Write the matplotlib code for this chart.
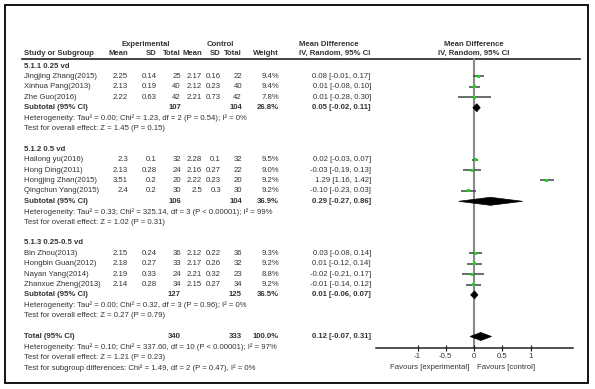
import matplotlib.pyplot as plt
from matplotlib.patches import Polygon, Rectangle

plt.rcParams['font.family'] = ['Liberation Sans', 'DejaVu Sans']
plt.rcParams['axes.unicode_minus'] = False

# studies (flat lists, group index says which subgroup)
study = ["Jingjing Zhang(2015)", "Xinhua Pang(2013)", "Zhe Guo(2016)",
         "Hailong yu(2016)", "Hong Ding(2011)", "Hongjing Zhan(2015)", "Qingchun Yang(2015)",
         "Bin Zhou(2013)", "Hongbin Guan(2012)", "Nayan Yang(2014)", "Zhanxue Zheng(2013)"]
group_of = [0, 0, 0, 1, 1, 1, 1, 2, 2, 2, 2]
exp_mean = [2.25, 2.13, 2.22, 2.3, 2.13, 3.51, 2.4, 2.15, 2.18, 2.19, 2.14]
exp_sd = [0.14, 0.19, 0.63, 0.1, 0.28, 0.2, 0.2, 0.24, 0.27, 0.33, 0.28]
exp_n = [25, 40, 42, 32, 24, 20, 30, 36, 33, 24, 34]
ctl_mean = [2.17, 2.12, 2.21, 2.28, 2.16, 2.22, 2.5, 2.12, 2.17, 2.21, 2.15]
ctl_sd = [0.16, 0.23, 0.73, 0.1, 0.27, 0.23, 0.3, 0.22, 0.26, 0.32, 0.27]
ctl_n = [22, 40, 42, 32, 22, 20, 30, 36, 32, 23, 34]
weight = [9.4, 9.4, 7.8, 9.5, 9.0, 9.2, 9.2, 9.3, 9.2, 8.8, 9.2]
md = [0.08, 0.01, 0.01, 0.02, -0.03, 1.29, -0.10, 0.03, 0.01, -0.02, -0.01]
md_lo = [-0.01, -0.08, -0.28, -0.03, -0.19, 1.16, -0.23, -0.08, -0.12, -0.21, -0.14]
md_hi = [0.17, 0.10, 0.30, 0.07, 0.13, 1.42, 0.03, 0.14, 0.14, 0.17, 0.12]

# subgroups
groups = ["5.1.1 0.25 vd", "5.1.2 0.5 vd", "5.1.3 0.25-0.5 vd"]
sub_exp_n = [107, 106, 127]
sub_ctl_n = [104, 104, 125]
sub_weight = [26.8, 36.9, 36.5]
sub_md = [0.05, 0.29, 0.01]
sub_lo = [-0.02, -0.27, -0.06]
sub_hi = [0.11, 0.86, 0.07]
sub_het = ["Heterogeneity: Tau² = 0.00; Chi² = 1.23, df = 2 (P = 0.54); I² = 0%",
           "Heterogeneity: Tau² = 0.33; Chi² = 325.14, df = 3 (P < 0.00001); I² = 99%",
           "Heterogeneity: Tau² = 0.00; Chi² = 0.32, df = 3 (P = 0.96); I² = 0%"]
sub_test = ["Test for overall effect: Z = 1.45 (P = 0.15)",
            "Test for overall effect: Z = 1.02 (P = 0.31)",
            "Test for overall effect: Z = 0.27 (P = 0.79)"]

# overall
tot_exp_n = 340
tot_ctl_n = 333
tot_weight = 100.0
tot_md, tot_lo, tot_hi = 0.12, -0.07, 0.31
tot_het = "Heterogeneity: Tau² = 0.10; Chi² = 337.60, df = 10 (P < 0.00001); I² = 97%"
tot_test = "Test for overall effect: Z = 1.21 (P = 0.23)"
tot_sub = "Test for subgroup differences: Chi² = 1.49, df = 2 (P = 0.47), I² = 0%"

ticks = [-1, -0.5, 0, 0.5, 1]
tick_labels = ["-1", "-0.5", "0", "0.5", "1"]

# layout (pixels)
W, H = 595, 389
FS = 5.6
TXT = '#333333'
x_name = 24
x_cols = [128, 157, 181, 202, 221, 242, 279]   # right edges
x_ci = 371
x0_px, scale = 474, 56.5
ax_left, ax_right, ax_bot, ax_top = 376, 573, 348, 58


def row_y(r):
    return 76.5 + (r - 3) * 10.4


def ci_text(m, lo, hi):
    return f"{m:.2f} [{lo:.2f}, {hi:.2f}]"


fig = plt.figure(figsize=(W / 100, H / 100), dpi=100)
bg = fig.add_axes([0, 0, 1, 1])
bg.set_xlim(0, W)
bg.set_ylim(H, 0)
bg.axis('off')
bg.add_patch(Rectangle((5, 5), 583, 378, fill=False, lw=1.3, ec='black'))

# header
hd = dict(fontsize=FS, color=TXT, va='center', fontweight='bold')
bg.text(146, 44, "Experimental", ha='center', **hd)
bg.text(220, 44, "Control", ha='center', **hd)
bg.text(299, 44, "Mean Difference", ha='left', **hd)
bg.text(x0_px, 44, "Mean Difference", ha='center', **hd)
bg.text(x_name, 53.5, "Study or Subgroup", **hd)
for x, lab in zip(x_cols, ["Mean", "SD", "Total", "Mean", "SD", "Total", "Weight"]):
    bg.text(x, 53.5, lab, ha='right', **hd)
bg.text(299, 53.5, "IV, Random, 95% CI", ha='left', **hd)
bg.text(x0_px, 53.5, "IV, Random, 95% CI", ha='center', **hd)
bg.plot([22, 580], [58.5, 58.5], color='#222222', lw=1.2)

# forest axes
fa = fig.add_axes([ax_left / W, 1 - ax_bot / H, (ax_right - ax_left) / W, (ax_bot - ax_top) / H])
fa.set_xlim((ax_left - x0_px) / scale, (ax_right - x0_px) / scale)
fa.set_ylim(ax_bot, ax_top)
fa.patch.set_alpha(0)
for s in ['left', 'right', 'top']:
    fa.spines[s].set_visible(False)
fa.spines['bottom'].set_linewidth(1.1)
fa.spines['bottom'].set_color('#222222')
fa.set_yticks([])
fa.set_xticks(ticks)
fa.set_xticklabels(tick_labels)
fa.tick_params(axis='x', direction='inout', length=5, width=0.9, color='#222222',
               labelsize=FS, pad=1, labelcolor=TXT)
fa.axvline(0, color='#8a8a8a', lw=1.5, zorder=1)
fa.text(-0.08, -0.066, "Favours [experimental]", transform=fa.get_xaxis_transform(),
        fontsize=FS, color=TXT, ha='right', va='center')
fa.text(0.05, -0.066, "Favours [control]", transform=fa.get_xaxis_transform(),
        fontsize=FS, color=TXT, ha='left', va='center')


def diamond(m, lo, hi, y):
    fa.add_patch(Polygon([(lo, y), (m, y - 4), (hi, y), (m, y + 4)],
                         closed=True, fc='black', ec='black', lw=0.5, zorder=3))


r = 2
for g, gname in enumerate(groups):
    bg.text(x_name, row_y(r), gname, fontsize=FS, color=TXT, va='center', fontweight='bold')
    r += 1
    idx = [i for i in range(len(study)) if group_of[i] == g]
    ys, los, his, ms, ws = [], [], [], [], []
    for i in idx:
        y = row_y(r)
        vals = [f"{exp_mean[i]:g}", f"{exp_sd[i]:g}", f"{exp_n[i]}",
                f"{ctl_mean[i]:g}", f"{ctl_sd[i]:g}", f"{ctl_n[i]}", f"{weight[i]:.1f}%"]
        bg.text(x_name, y, study[i], fontsize=FS, color=TXT, va='center')
        for x, v in zip(x_cols, vals):
            bg.text(x, y, v, fontsize=FS, color=TXT, ha='right', va='center')
        bg.text(x_ci, y, ci_text(md[i], md_lo[i], md_hi[i]), fontsize=FS, color=TXT, ha='right', va='center')
        ys.append(y); los.append(md_lo[i]); his.append(md_hi[i]); ms.append(md[i]); ws.append(weight[i])
        r += 1
    fa.hlines(ys, los, his, color='#444444', lw=1.1, zorder=2)
    fa.scatter(ms, ys, marker='s', s=[w * 0.5 for w in ws], color='#1fd41f', lw=0, zorder=4)
    y = row_y(r)
    bd = dict(fontsize=FS, color=TXT, ha='right', va='center', fontweight='bold')
    bg.text(x_name, y, "Subtotal (95% CI)", fontsize=FS, color=TXT, va='center', fontweight='bold')
    bg.text(x_cols[2], y, f"{sub_exp_n[g]}", **bd)
    bg.text(x_cols[5], y, f"{sub_ctl_n[g]}", **bd)
    bg.text(x_cols[6], y, f"{sub_weight[g]:.1f}%", **bd)
    bg.text(x_ci, y, ci_text(sub_md[g], sub_lo[g], sub_hi[g]), **bd)
    diamond(sub_md[g], sub_lo[g], sub_hi[g], y)
    r += 1
    bg.text(x_name, row_y(r), sub_het[g], fontsize=FS, color=TXT, va='center')
    r += 1
    bg.text(x_name, row_y(r), sub_test[g], fontsize=FS, color=TXT, va='center')
    r += 2

y = row_y(r)
bd = dict(fontsize=FS, color=TXT, ha='right', va='center', fontweight='bold')
bg.text(x_name, y, "Total (95% CI)", fontsize=FS, color=TXT, va='center', fontweight='bold')
bg.text(x_cols[2], y, f"{tot_exp_n}", **bd)
bg.text(x_cols[5], y, f"{tot_ctl_n}", **bd)
bg.text(x_cols[6], y, f"{tot_weight:.1f}%", **bd)
bg.text(x_ci, y, ci_text(tot_md, tot_lo, tot_hi), **bd)
diamond(tot_md, tot_lo, tot_hi, y)
for k, line in enumerate([tot_het, tot_test, tot_sub]):
    bg.text(x_name, row_y(r + 1 + k), line, fontsize=FS, color=TXT, va='center')

fig.savefig("out.png", dpi=100)
plt.close(fig)
